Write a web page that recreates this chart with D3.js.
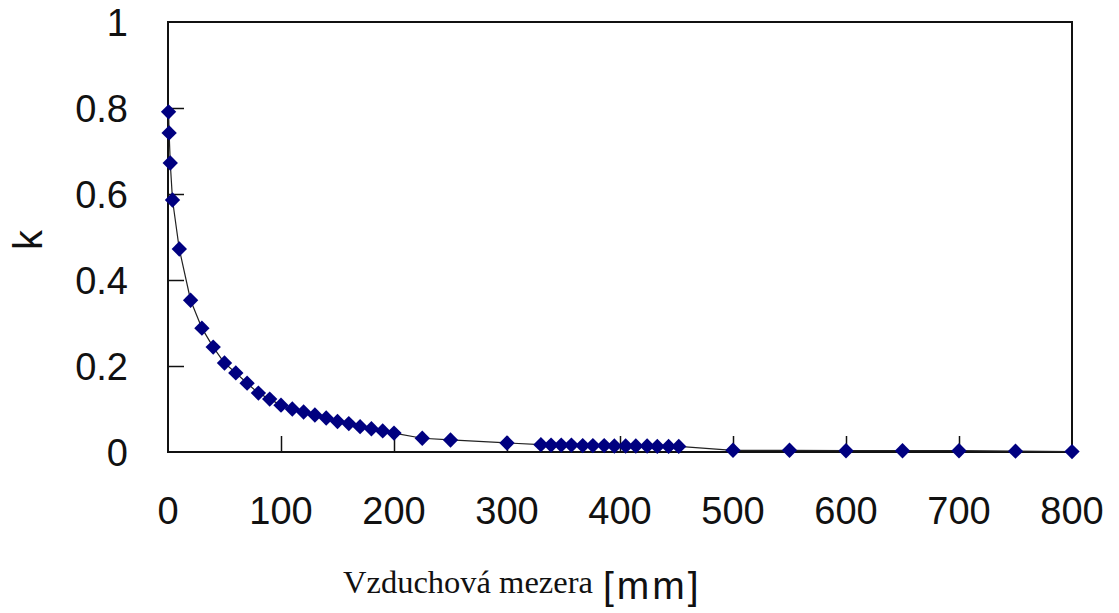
<!DOCTYPE html>
<html>
<head>
<meta charset="utf-8">
<script src="https://cdn.jsdelivr.net/npm/d3@7"></script>
<style>
  html, body { margin: 0; padding: 0; background: #fff; }
  svg { display: block; }
</style>
</head>
<body>
<svg id="chart" width="1119" height="613"></svg>
<script>
// Air gap [mm] and coupling coefficient k
const gapMm = [0.5, 1, 2, 4, 10, 20, 30, 40, 50, 60, 70, 80, 90, 100, 110, 120, 130, 140, 150, 160, 170, 180, 190, 200,
  225, 250, 300, 330, 339, 348, 357, 367, 376, 386, 395, 405, 414, 424, 433, 443, 452,
  500, 550, 600, 650, 700, 750, 800];
const kValues = [0.791, 0.742, 0.672, 0.586, 0.472, 0.353, 0.288, 0.244, 0.207, 0.184, 0.160, 0.137, 0.123, 0.109, 0.100, 0.093, 0.086, 0.079, 0.071, 0.066, 0.059, 0.054, 0.049, 0.044,
  0.032, 0.028, 0.021, 0.017, 0.016, 0.016, 0.016, 0.015, 0.015, 0.015, 0.014, 0.014, 0.014, 0.014, 0.013, 0.013, 0.013,
  0.004, 0.004, 0.003, 0.003, 0.003, 0.002, 0.001];

const xTicks = [0, 100, 200, 300, 400, 500, 600, 700, 800];
const yTicks = [0, 0.2, 0.4, 0.6, 0.8, 1];
const xTitle = "Vzduchová mezera";
const xUnit = "[mm]";
const yTitle = "k";

const svg = d3.select("#chart");
const plotLeft = 168, plotRight = 1072, plotTop = 22, plotBottom = 452;

const x = d3.scaleLinear().domain([0, 800]).range([plotLeft, plotRight]);
const y = d3.scaleLinear().domain([0, 1]).range([plotBottom, plotTop]);

const points = gapMm.map((g, i) => ({ g, k: kValues[i] }));

// inner tick marks
svg.append("g")
  .attr("transform", `translate(${plotLeft},0)`)
  .call(d3.axisRight(y).tickValues(yTicks.filter(v => v > 0 && v < 1)).tickSize(16).tickFormat(""))
  .call(g => g.select(".domain").remove())
  .call(g => g.selectAll("line").attr("stroke", "#111").attr("stroke-width", 1.5));

svg.append("g")
  .attr("transform", `translate(0,${plotBottom})`)
  .call(d3.axisTop(x).tickValues(xTicks.filter(v => v > 0 && v < 800)).tickSize(16).tickFormat(""))
  .call(g => g.select(".domain").remove())
  .call(g => g.selectAll("line").attr("stroke", "#111").attr("stroke-width", 1.5));

// plot frame
svg.append("rect")
  .attr("x", plotLeft).attr("y", plotTop)
  .attr("width", plotRight - plotLeft).attr("height", plotBottom - plotTop)
  .attr("fill", "none").attr("stroke", "#111").attr("stroke-width", 2);

// tick labels
svg.append("g").selectAll("text").data(yTicks).join("text")
  .attr("x", 128).attr("y", d => y(d) + 14)
  .attr("text-anchor", "end")
  .attr("font-family", "Liberation Sans, Arial, sans-serif")
  .attr("font-size", 38).attr("fill", "#111")
  .text(d => d3.format("~g")(d));

svg.append("g").selectAll("text").data(xTicks).join("text")
  .attr("x", d => x(d)).attr("y", 524)
  .attr("text-anchor", "middle")
  .attr("font-family", "Liberation Sans, Arial, sans-serif")
  .attr("font-size", 38).attr("fill", "#111")
  .text(d => d);

// axis titles
svg.append("text")
  .attr("transform", `translate(42,${(plotTop + plotBottom) / 2 + 3}) rotate(-90)`)
  .attr("text-anchor", "middle")
  .attr("font-family", "Liberation Sans, Arial, sans-serif")
  .attr("font-size", 40).attr("fill", "#111")
  .text(yTitle);

svg.append("text")
  .attr("x", 343).attr("y", 593)
  .attr("font-family", "Liberation Serif, Times New Roman, serif")
  .attr("font-size", 32.5).attr("fill", "#111")
  .text(xTitle);

svg.append("text")
  .attr("x", 603).attr("y", 599)
  .attr("font-family", "Liberation Sans, Arial, sans-serif")
  .attr("font-size", 39).attr("letter-spacing", 3).attr("fill", "#111")
  .text(xUnit);

// connecting line
svg.append("path")
  .datum(points)
  .attr("fill", "none").attr("stroke", "#222").attr("stroke-width", 1.2)
  .attr("d", d3.line().x(d => x(d.g)).y(d => y(d.k)));

// diamond markers
const diamond = d3.symbol().type(d3.symbolDiamond2).size(150);
svg.append("g").selectAll("path").data(points).join("path")
  .attr("transform", d => `translate(${x(d.g)},${y(d.k)})`)
  .attr("d", diamond)
  .attr("fill", "#000080");
</script>
</body>
</html>
